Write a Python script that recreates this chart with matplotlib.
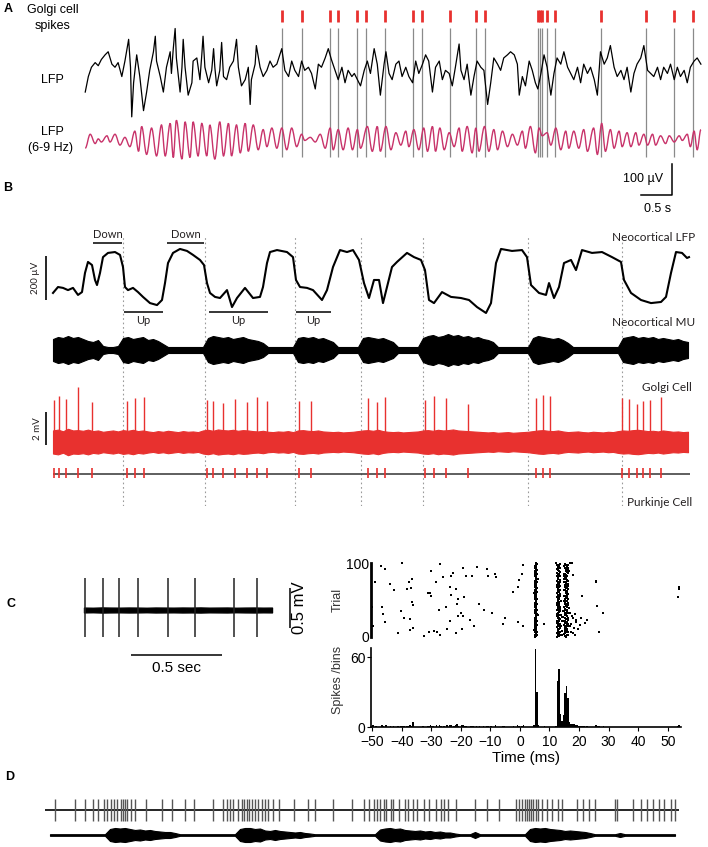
import numpy as np
import matplotlib
matplotlib.use("Agg")
import matplotlib.pyplot as plt
from matplotlib.path import Path
from matplotlib.patches import PathPatch

plt.rcParams['font.family'] = ['Liberation Sans', 'DejaVu Sans']

W, H = 708, 847
RED = '#e8312f'
PINK = '#c8336a'
GREY_TXT = '#231f20'

# ---------------- panel A data ----------------
# Golgi cell spike times (s)
a_spikes = [3.19, 3.52, 3.97, 4.10, 4.40, 4.55, 4.85, 5.31, 5.45, 5.90, 6.32, 6.47,
            7.32, 7.35, 7.39, 7.47, 7.60, 8.34, 9.06, 9.52, 9.82]

# raw LFP (s, uV)
lfp_a_t = [0.02, 0.07, 0.12, 0.18, 0.23, 0.28, 0.34, 0.39, 0.45, 0.50, 0.55, 0.61, 0.66, 0.72, 0.75,
           0.77, 0.80, 0.85, 0.90, 0.96, 1.01, 1.06, 1.12, 1.15, 1.17, 1.23, 1.28, 1.33, 1.39, 1.41,
           1.44, 1.47, 1.49, 1.55, 1.58, 1.60, 1.63, 1.68, 1.74, 1.76, 1.82, 1.87, 1.90, 1.92, 1.95,
           2.01, 2.06, 2.09, 2.11, 2.14, 2.19, 2.22, 2.25, 2.30, 2.35, 2.41, 2.46, 2.49, 2.54, 2.60,
           2.65, 2.68, 2.70, 2.76, 2.78, 2.84, 2.89, 2.95, 3.00, 3.05, 3.11, 3.19, 3.24, 3.30, 3.35,
           3.40, 3.46, 3.51, 3.56, 3.62, 3.67, 3.73, 3.78, 3.83, 3.89, 3.94, 3.99, 4.05, 4.10, 4.16,
           4.21, 4.26, 4.32, 4.36, 4.41, 4.46, 4.52, 4.57, 4.62, 4.68, 4.73, 4.78, 4.84, 4.87, 4.92,
           4.97, 5.03, 5.08, 5.13, 5.19, 5.24, 5.30, 5.35, 5.40, 5.46, 5.51, 5.56, 5.62, 5.67, 5.73,
           5.78, 5.83, 5.89, 5.94, 5.99, 6.05, 6.08, 6.13, 6.18, 6.24, 6.29, 6.34, 6.40, 6.45, 6.51,
           6.56, 6.61, 6.67, 6.72, 6.77, 6.83, 6.88, 6.94, 6.99, 7.02, 7.07, 7.12, 7.18, 7.23, 7.28,
           7.32, 7.37, 7.42, 7.47, 7.53, 7.58, 7.63, 7.69, 7.74, 7.80, 7.85, 7.90, 7.96, 8.01, 8.06,
           8.12, 8.17, 8.23, 8.28, 8.33, 8.39, 8.44, 8.49, 8.55, 8.60, 8.66, 8.71, 8.76, 8.82, 8.87,
           8.92, 8.98, 9.03, 9.09, 9.14, 9.19, 9.25, 9.30, 9.35, 9.41, 9.46, 9.52, 9.57, 9.62, 9.68,
           9.73, 9.78, 9.84, 9.89, 9.95]
lfp_a_uv = [-55, -5, 25, 40, 30, 50, 65, 75, 35, 25, 40, -5, 45, 115, 25,
            -135, -25, 65, -5, -115, -55, 15, 75, 125, 45, -5, -55, 25, 75, 5,
            85, 150, 55, -55, 25, 115, 25, -65, -25, 45, 55, -15, 65, 125, 25,
            -25, 15, 85, 25, -35, 15, 105, -5, -15, 25, 45, 115, 25, -35, -15,
            25, -95, -15, 35, 95, 25, -5, 15, 45, 25, 35, 85, 15, -5, 45,
            15, -5, 45, 15, 25, 5, -45, 35, 25, 55, 85, 50, 15, -15, 25,
            -25, 15, -5, 5, -15, -35, 15, 45, 5, 85, 35, -65, 35, 75, 5,
            -15, 35, 45, -5, 25, -5, -25, 45, 5, 35, 65, 45, -55, 25, 45,
            -15, 15, 5, -35, 25, 100, 15, -15, 35, -65, -5, 45, 25, 15, -95,
            -25, 55, 35, 15, 55, 65, 75, 65, 35, -65, -5, -35, 45, 15, -25,
            -45, 5, 65, 25, -65, 5, 55, 35, 75, 25, 5, -15, 25, -25, 35,
            5, 25, -15, -65, 75, 35, 55, 95, 25, -5, 15, -15, 25, -55, 5,
            35, 55, 95, 15, 5, -5, 25, -15, 25, 5, 35, -15, 25, -5, 15,
            -25, 25, 45, 55, 35]

# 6-9 Hz filtered LFP: successive peaks and troughs (s, uV)
flt_t = [0.02, 0.10, 0.18, 0.23, 0.28, 0.37, 0.42, 0.50, 0.58, 0.66, 0.74, 0.82, 0.88, 0.93, 1.01,
         1.09, 1.17, 1.25, 1.31, 1.39, 1.44, 1.49, 1.58, 1.63, 1.71, 1.76, 1.84, 1.90, 1.98, 2.03,
         2.11, 2.19, 2.25, 2.33, 2.38, 2.46, 2.52, 2.60, 2.65, 2.73, 2.81, 2.89, 2.95, 3.03, 3.11,
         3.19, 3.27, 3.35, 3.43, 3.51, 3.56, 3.65, 3.73, 3.81, 3.89, 3.97, 4.02, 4.10, 4.18, 4.26,
         4.33, 4.41, 4.46, 4.57, 4.65, 4.73, 4.78, 4.87, 4.95, 5.03, 5.11, 5.19, 5.24, 5.32, 5.40,
         5.48, 5.54, 5.62, 5.67, 5.74, 5.81, 5.89, 5.97, 6.05, 6.10, 6.18, 6.26, 6.32, 6.37, 6.46,
         6.53, 6.61, 6.67, 6.75, 6.83, 6.91, 6.99, 7.07, 7.12, 7.20, 7.28, 7.34, 7.39, 7.47, 7.53,
         7.61, 7.69, 7.77, 7.82, 7.90, 7.98, 8.06, 8.12, 8.22, 8.28, 8.35, 8.41, 8.49, 8.55, 8.63,
         8.68, 8.76, 8.82, 8.90, 8.95, 9.03, 9.09, 9.17, 9.22, 9.30, 9.38, 9.44, 9.52, 9.60, 9.65,
         9.73, 9.78, 9.84, 9.89, 9.95]
flt_uv = [-20, 25, -5, 10, 0, 20, 0, 25, -10, 15, -15, 35, -30, 50, -40,
          45, -45, 55, -45, 60, -50, 70, -55, 65, -50, 65, -45, 60, -45, 55,
          -55, 65, -45, 60, -45, 55, -35, 60, -30, 55, -25, 40, -15, 45, -20,
          45, -25, 45, -15, 25, 5, 15, 0, 25, -20, 45, -25, 40, -25, 45,
          -25, 40, -20, 50, -30, 50, -30, 50, -25, 30, -10, 35, -15, 40, -25,
          45, -30, 50, -30, 45, -25, 30, -15, 45, -30, 50, -35, 45, -30, 50,
          -30, 40, -25, 35, -15, 25, -10, 35, -20, 50, -35, 45, 20, 30, -10,
          45, -25, 35, -20, 35, -20, 40, -30, 45, -40, 60, -30, 40, -20, 35,
          -15, 30, -15, 30, -10, 25, -10, 25, -10, 20, -5, 20, 0, 20, 5,
          25, -15, 35, -25, 40]

# ---------------- panel B data ----------------
# neocortical LFP (s, uV)
lfp_b_t = [0.00, 0.10, 0.20, 0.30, 0.40, 0.50, 0.58, 0.64, 0.70, 0.78, 0.84, 0.88, 0.94, 1.00, 1.10,
           1.24, 1.34, 1.40, 1.44, 1.50, 1.60, 1.70, 1.80, 1.94, 2.08, 2.18, 2.24, 2.30, 2.40, 2.54,
           2.68, 2.80, 2.94, 3.02, 3.08, 3.14, 3.24, 3.34, 3.48, 3.58, 3.68, 3.84, 4.00, 4.14, 4.20,
           4.28, 4.34, 4.48, 4.68, 4.80, 4.86, 4.94, 5.08, 5.20, 5.38, 5.48, 5.60, 5.74, 5.88, 6.00,
           6.12, 6.22, 6.32, 6.42, 6.52, 6.60, 6.68, 6.78, 6.88, 7.08, 7.22, 7.36, 7.44, 7.52, 7.62,
           7.78, 7.96, 8.16, 8.32, 8.48, 8.66, 8.76, 8.86, 8.96, 9.18, 9.38, 9.48, 9.56, 9.72, 9.86,
           9.92, 10.02, 10.12, 10.22, 10.36, 10.46, 10.58, 10.78, 10.98, 11.18, 11.36, 11.42, 11.56,
           11.76, 11.96, 12.16, 12.26, 12.36, 12.46, 12.58, 12.68, 12.72]
lfp_b_uv = [32, 59, 55, 45, 55, 23, 36, 123, 173, 159, 91, 68, 123, 195, 214,
            218, 205, 150, 59, 45, 55, 36, 14, -14, -23, 0, 77, 168, 214, 232,
            223, 205, 182, 159, 77, 32, 14, 9, 45, -32, 9, 55, 9, 14, 59,
            168, 218, 227, 218, 195, 91, 59, 55, 45, 0, 45, 150, 227, 218, 227,
            182, 77, 9, 91, 91, -14, 59, 150, 173, 214, 195, 182, 136, 0, -14,
            36, 14, 9, 0, -32, -59, -14, 168, 232, 223, 227, 195, 68, 32, 23,
            77, 9, 59, 168, 182, 136, 227, 214, 218, 195, 173, 91, 32,
            0, -14, -9, 14, 123, 218, 214, 191, 195]

down_states = [(0.80, 1.38), (2.28, 3.02)]
up_states = [(1.42, 2.20), (3.12, 4.30), (4.86, 5.56)]
transitions = [1.40, 3.04, 4.84, 6.16, 7.40, 9.50, 11.38]

# multi-unit activity envelope, one value every 0.1 s (a.u.)
mu_env = [11, 13, 12, 14, 12, 13, 11, 9, 8, 10,
          4, 3, 3, 4,
          12, 13, 11, 12, 13, 10, 11, 9, 6,
          3, 3, 3, 3, 3, 3, 3, 3,
          12, 14, 13, 12, 13, 11, 12, 13, 11, 10, 9, 7,
          3, 3, 3, 3, 3, 3,
          12, 13, 12, 13, 11, 12, 10, 8,
          3, 3, 3, 3, 3,
          12, 13, 12, 11, 12, 10, 8,
          3, 3, 3, 3, 3,
          12, 14, 15, 13, 14, 16, 14, 15, 13, 14, 12, 13, 11, 10, 8,
          3, 3, 3, 3, 3, 3, 3,
          12, 14, 13, 12, 11, 12, 10, 7,
          3, 3, 3, 3, 3, 3, 3, 3, 3, 3,
          12, 13, 14, 12, 13, 12, 13, 11, 12, 11, 10, 11, 9, 8]

# Golgi cell: background noise half-width every 0.1 s (mV), spikes (s, mV)
golgi_env = [0.70, 0.75, 0.65, 0.80, 0.70, 0.72, 0.68, 0.75, 0.66, 0.70,
             0.62, 0.66, 0.70, 0.64, 0.72, 0.68, 0.74, 0.66, 0.70, 0.64,
             0.60, 0.66, 0.62, 0.68, 0.64, 0.60, 0.66, 0.62, 0.64, 0.60,
             0.70, 0.74, 0.68, 0.76, 0.72, 0.70, 0.74, 0.68, 0.72, 0.70,
             0.66, 0.64, 0.68, 0.62, 0.60, 0.64, 0.62, 0.66, 0.60, 0.70,
             0.72, 0.68, 0.66, 0.70, 0.64, 0.62, 0.60, 0.62, 0.58, 0.60,
             0.62, 0.66, 0.70, 0.72, 0.68, 0.74, 0.66, 0.62, 0.60, 0.62,
             0.58, 0.60, 0.62, 0.64, 0.70, 0.72, 0.68, 0.74, 0.70, 0.72,
             0.76, 0.70, 0.68, 0.66, 0.64, 0.62, 0.60, 0.58, 0.60, 0.56,
             0.58, 0.60, 0.56, 0.58, 0.60, 0.62, 0.66, 0.70, 0.72, 0.68,
             0.66, 0.70, 0.64, 0.60, 0.62, 0.64, 0.60, 0.58, 0.62, 0.60,
             0.58, 0.62, 0.60, 0.66, 0.70, 0.68, 0.72, 0.74, 0.70, 0.66,
             0.68, 0.64, 0.70, 0.66, 0.62, 0.64, 0.60, 0.62]
golgi_spk_t = [0.02, 0.12, 0.26, 0.50, 0.78, 1.48, 1.64, 1.82, 3.08, 3.20, 3.40, 3.64, 3.88,
               4.08, 4.28, 4.92, 5.16, 6.30, 6.48, 6.64, 7.44, 7.62, 7.86, 8.30, 9.66, 9.80,
               9.94, 11.38, 11.52, 11.68, 11.80, 11.94, 12.16]
golgi_spk_mv = [2.55, 2.79, 2.61, 3.33, 2.42, 2.48, 2.67, 2.73, 2.55, 2.48, 2.36, 2.61, 2.42,
                2.73, 2.48, 2.48, 2.48, 2.67, 2.42, 2.73, 2.55, 2.79, 2.67, 2.30, 2.67, 2.85,
                2.79, 2.67, 2.61, 2.30, 2.48, 2.55, 2.73]
B_DUR = 12.74

# ---------------- panel C data ----------------
c_spikes = [0.005, 0.104, 0.192, 0.297, 0.462, 0.610, 0.824, 0.951]
c_env = [0.030, 0.028, 0.032, 0.030, 0.029, 0.031, 0.030, 0.028, 0.031, 0.030, 0.029,
         0.031, 0.030, 0.032, 0.029, 0.030, 0.031, 0.028, 0.030, 0.031, 0.029, 0.030]

bg_ms = [-46.9, -45.5, -48.9, -44.0, -39.9, -42.7, -37.6, -36.5, -38.2, -36.7, -50.0, -46.6, -46.3,
         -45.5, -41.3, -40.4, -39.3, -37.1, -36.5, -36.2, -37.3, -36.2, -32.6, -30.9, -29.2, -28.1,
         -27.2, -30.1, -27.0, -28.3, -26.0, -31.1, -30.4, -30.0, -27.4, -24.9, -24.7, -23.6, -23.6,
         -23.3, -22.5, -23.3, -21.6, -21.3, -21.1, -20.8, -21.1, -21.6, -20.0, -19.1, -18.8, -19.3,
         -18.2, -19.6, -16.9, -15.7, -16.3, -14.6, -13.7, -12.2, -11.2, -10.7, -9.6, -8.4, -8.1,
         -5.6, -5.1, -2.2, -0.8, -0.3, 0.6, 1.1, -0.6, 1.1, 8.1, 20.8, 21.9, 22.7, 21.1, 25.6,
         25.8, 26.1, 26.7, 28.1, 53.7, 53.9, 53.4, 17.6, 18.0, 19.1, -49.8]
bg_trial = [96, 92, 74, 72, 100, 63, 75, 78, 65, 66, 41, 40, 31,
            20, 5, 35, 25, 24, 47, 43, 9, 12, 1, 7, 8, 6,
            2, 89, 99, 74, 81, 59, 60, 55, 36, 41, 10, 22, 67,
            57, 87, 83, 5, 44, 52, 51, 28, 65, 33, 28, 54, 93,
            83, 11, 23, 15, 83, 95, 45, 37, 92, 82, 33, 85, 81,
            18, 26, 61, 68, 77, 86, 98, 20, 14, 17, 26, 19, 23, 55, 76,
            75, 42, 7, 33, 67, 65, 54, 100, 84, 23, 15]

# first evoked spike, one per trial 0..100 (ms)
evoked1 = [5.2, 5.3, 5.7, 5.1, 5.4, 5.6, 5.8, 5.2, 5.4, 4.9,
           5.3, 5.6, 5.2, 5.4, 5.1, 5.6, 5.7, 5.2, 5.4, 5.3,
           5.2, 5.9, 5.4, 5.1, 5.3, 5.6, 5.2, 5.4, 5.6, 6.1,
           5.3, 5.7, 5.2, 5.4, 5.1, 5.3, 5.8, 5.2, 5.4, 5.6,
           5.2, 5.6, 5.4, 5.1, 5.3, 5.7, 5.2, 5.4, 5.3, 5.6,
           5.3, 5.2, 5.8, 5.4, 5.1, 5.6, 5.6, 5.2, 5.4, 4.8,
           5.3, 5.7, 5.2, 5.4, 5.1, 5.6, 5.9, 5.2, 5.4, 5.3,
           5.2, 5.6, 5.4, 5.1, 5.3, 5.7, 5.2, 5.4, 5.6, 6.2,
           5.3, 5.6, 5.2, 5.4, 5.1, 5.6, 5.8, 5.2, 5.4, 5.3,
           5.2, 5.7, 5.4, 5.1, 5.3, 5.6, 5.2, 5.4, 5.3, 5.7, 5.3]
# second and third evoked spikes per trial (ms)
evoked2 = [12.7, 13.2, 12.9, 13.4, 13.1, 12.6, 13.7, 13.3, 12.8, 13.0,
           13.1, 12.8, 13.4, 12.6, 13.2, 13.0, 12.9, 13.7, 13.3, 12.7,
           12.9, 13.3, 12.7, 13.1, 13.6, 12.8, 13.2, 13.0, 12.6, 13.4,
           13.2, 12.6, 13.0, 12.9, 13.3, 13.7, 12.7, 13.1, 13.4, 12.8,
           12.8, 13.4, 13.1, 12.7, 13.0, 13.2, 12.6, 13.3, 12.9, 13.8,
           13.0, 12.9, 13.3, 13.2, 12.7, 13.1, 13.4, 12.8, 13.6, 12.6,
           12.6, 13.1, 12.8, 13.3, 13.5, 12.9, 13.0, 12.7, 13.2, 13.4,
           13.3, 12.7, 13.2, 12.8, 13.1, 13.4, 12.6, 13.7, 13.0, 12.9,
           12.9, 13.0, 13.4, 12.6, 12.8, 13.3, 13.1, 12.7, 13.6, 13.2,
           13.1, 12.8, 12.7, 13.2, 13.4, 12.9, 13.3, 13.0, 12.6, 13.5, 12.3]
evoked3 = [15.6, 15.2, 16.1, 15.8, 14.8, 15.4, 16.3, 15.7, 15.1, 16.0,
           15.3, 16.0, 15.7, 15.1, 16.2, 15.5, 14.9, 15.8, 16.4, 15.2,
           15.9, 15.4, 15.0, 16.1, 15.6, 16.3, 15.2, 14.7, 15.8, 15.5,
           15.1, 15.7, 16.2, 15.3, 15.9, 14.8, 15.6, 16.0, 15.4, 16.5,
           15.8, 15.0, 15.5, 16.3, 15.2, 15.7, 16.1, 15.4, 14.9, 15.9,
           15.4, 16.2, 15.1, 15.6, 16.0, 15.3, 14.8, 15.9, 16.4, 15.7,
           16.0, 15.5, 15.8, 14.9, 15.3, 16.1, 15.6, 15.2, 15.9, 16.3,
           15.2, 15.9, 16.4, 15.5, 15.0, 15.7, 16.2, 15.8, 15.3, 14.8,
           15.7, 15.3, 15.0, 16.0, 15.6, 14.9, 15.4, 16.1, 15.8, 16.6,
           15.5, 16.1, 15.7, 15.2, 16.3, 15.9, 15.0, 15.6, 16.2, 15.4, 16.8]
late_ms = [14.2, 14.0, 14.3, 13.8, 14.1, 14.4, 17.8, 18.3, 19.0, 17.5, 18.8, 17.2, 19.5, 16.8,
           18.0, 17.0, 20.2, 14.6, 17.3, 18.5]
late_trial = [8, 15, 22, 30, 2, 27, 5, 12, 20, 28, 3, 18, 10, 33, 25, 14, 16, 35, 6, 31]

# ---------------- panel D data ----------------
d_spikes = [0.10, 0.30, 0.40, 0.48, 0.53, 0.59, 0.62, 0.66, 0.69, 0.72, 0.76, 0.78, 0.80, 0.82,
            0.86, 0.90, 1.01, 1.17, 1.27, 1.40, 1.49, 1.68, 1.78, 1.82, 1.85, 1.88, 1.93, 1.97,
            1.99, 2.02, 2.04, 2.07, 2.10, 2.13, 2.17, 2.20, 2.23, 2.28, 2.34, 2.49, 2.63, 2.70,
            2.88, 3.07, 3.19, 3.24, 3.29, 3.32, 3.35, 3.39, 3.41, 3.46, 3.48, 3.54, 3.60, 3.63,
            3.68, 3.72, 3.79, 3.84, 3.91, 3.96, 3.99, 4.03, 4.11, 4.30, 4.42, 4.54, 4.71, 4.74,
            4.77, 4.80, 4.82, 4.84, 4.86, 4.88, 4.91, 4.93, 4.97, 5.02, 5.07, 5.13, 5.17, 5.32,
            5.38, 5.44, 5.50, 5.70, 5.72, 5.88, 5.96, 6.02, 6.08, 6.14, 6.19, 6.26, 6.30]
D_DUR = 6.34
# field trace envelope every 0.05 s from 0.05 s (a.u.)
d_env = [0.8] * 12 + [6, 7, 6.5, 7, 6] + [5, 5.5, 4.5, 5, 4] + [3.5, 3, 3, 2] + [0.8] * 12 + \
        [6, 7, 7, 6, 6.5] + [4.5, 4, 5, 4, 3.5] + [3, 2.5, 3, 2, 1.5] + [0.8] * 13 + \
        [5.5, 6.5, 7, 6, 6.5, 5] + [4.5, 4, 4.5, 3.5, 4, 3, 3.5] + [2.5, 2.5, 1.5] + [0.8] * 3 + \
        [3] + [0.8] * 10 + [6, 7, 6.5, 7, 6, 5.5, 5] + [4, 4.5, 4, 3.5, 3, 2] + [0.8] * 5 + \
        [2] + [0.8] * 11


def box(x0, y0, x1, y1):
    return [x0 / W, 1 - y1 / H, (x1 - x0) / W, (y1 - y0) / H]


def bare(ax):
    ax.set_axis_off()
    ax.patch.set_alpha(0)


def smooth_path(t, v, off):
    verts = [(t[0], v[0] + off)]
    codes = [Path.MOVETO]
    for i in range(len(t) - 1):
        d = t[i + 1] - t[i]
        verts += [(t[i] + 0.36 * d, v[i] + off), (t[i + 1] - 0.36 * d, v[i + 1] + off),
                  (t[i + 1], v[i + 1] + off)]
        codes += [Path.CURVE4] * 3
    return Path(verts, codes)


fig = plt.figure(figsize=(W / 100, H / 100), dpi=100)
fig.patch.set_facecolor('white')


def ftext(x, y, s, **kw):
    fig.text(x / W, 1 - y / H, s, **kw)


# ================= panel A =================
kA = 100 / 31  # uV per pixel
axA = fig.add_axes(box(0, 0, W, 205))
bare(axA)
axA.set_xlim(-84 / 62, 624 / 62)
axA.set_ylim(-130 * kA, 75 * kA)
ay = lambda py: (75 - py) * kA
axA.vlines(a_spikes, ay(157), ay(28), color='#8a8a8a', lw=0.9, zorder=1)
axA.vlines(a_spikes, ay(22), ay(10), color=RED, lw=2.0, zorder=3)
axA.plot(lfp_a_t, lfp_a_uv, color='black', lw=0.9, zorder=2)
axA.add_patch(PathPatch(smooth_path(flt_t, flt_uv, ay(142)), fill=False, ec=PINK, lw=1.0, zorder=2))
sbx = (672 - 84) / 62
axA.plot([sbx - 0.5, sbx, sbx], [ay(195), ay(195), ay(195) + 100], color='black', lw=1.1)
axA.text(sbx - 0.47, ay(179), '100 µV', ha='center', va='center', fontsize=9)
axA.text(sbx - 0.23, ay(209), '0.5 s', ha='center', va='center', fontsize=9)

ftext(8, 9, 'A', fontsize=9, fontweight='bold', ha='center', va='center')
ftext(53, 10, 'Golgi cell', fontsize=9, ha='center', va='center')
ftext(53, 26, 'spikes', fontsize=9, ha='center', va='center')
ftext(52, 80, 'LFP', fontsize=9, ha='center', va='center')
ftext(52, 132, 'LFP', fontsize=9, ha='center', va='center')
ftext(51, 148, '(6-9 Hz)', fontsize=9, ha='center', va='center')

# ================= panel B =================
xlimB = (-53 / 50, (W - 53) / 50)
kB = 200 / 44
bfont = dict(family=['Lato', 'DejaVu Sans'], color=GREY_TXT)

axBd = fig.add_axes(box(0, 237, W, 506))
bare(axBd)
axBd.set_xlim(*xlimB)
axBd.set_ylim(0, 1)
axBd.vlines(transitions, 0, 1, color='#9a9a9a', lw=0.8, linestyles=(0, (1.5, 2.5)))

axB1 = fig.add_axes(box(0, 225, W, 330))
bare(axB1)
axB1.set_xlim(*xlimB)
axB1.set_ylim(-30 * kB, 75 * kB)
by = lambda py: (300 - py) * kB
axB1.plot(lfp_b_t, lfp_b_uv, color='black', lw=1.5, solid_joinstyle='round')
for a, b in down_states:
    axB1.hlines(by(243), a, b, color='black', lw=1.1)
    axB1.text((a + b) / 2, by(235), 'Down', ha='center', va='center', fontsize=8, **bfont)
for a, b in up_states:
    axB1.hlines(by(312), a, b, color='black', lw=1.1)
    axB1.text((a + b) / 2, by(320), 'Up', ha='center', va='center', fontsize=8, **bfont)
axB1.vlines(-0.14, 0, 200, color='black', lw=1.2)
axB1.text(-0.34, 100, '200 µV', rotation=90, ha='center', va='center', fontsize=7, **bfont)

grid_b = np.arange(len(mu_env)) * 0.1
axB2 = fig.add_axes(box(0, 330, W, 372))
bare(axB2)
axB2.set_xlim(*xlimB)
axB2.set_ylim(-22, 20)
mu = np.array(mu_env, dtype=float)
axB2.fill_between(grid_b, -mu, mu, color='black', lw=0.8, ec='black')

kG = 2 / 33
axB3 = fig.add_axes(box(0, 380, W, 462))
bare(axB3)
axB3.set_xlim(*xlimB)
axB3.set_ylim(-20 * kG, 62 * kG)
ge = np.array(golgi_env)
axB3.fill_between(grid_b[:len(ge)], -ge, ge, color=RED, lw=0.8, ec=RED)
axB3.vlines(golgi_spk_t, 0, golgi_spk_mv, color=RED, lw=1.0)
axB3.vlines(-0.14, -0.18, 1.82, color='black', lw=1.2)
axB3.text(-0.32, 0.8, '2 mV', rotation=90, ha='center', va='center', fontsize=7, **bfont)

axB4 = fig.add_axes(box(0, 462, W, 486))
bare(axB4)
axB4.set_xlim(*xlimB)
axB4.set_ylim(-12, 12)
axB4.hlines(0, 0, B_DUR, color='#333333', lw=1.1)
axB4.vlines(golgi_spk_t, -4, 6, color=RED, lw=1.2)

ftext(8, 188, 'B', fontsize=9, fontweight='bold', ha='center', va='center')
ftext(695, 237, 'Neocortical LFP', fontsize=8.5, ha='right', va='center', **bfont)
ftext(695, 323, 'Neocortical MU', fontsize=8.5, ha='right', va='center', **bfont)
ftext(692, 387, 'Golgi Cell', fontsize=8.5, ha='right', va='center', **bfont)
ftext(692, 502, 'Purkinje Cell', fontsize=8.5, ha='right', va='center', **bfont)

# ================= panel C (left trace) =================
axC1 = fig.add_axes(box(0, 565, 320, 680))
bare(axC1)
axC1.set_xlim(-84 / 182, 236 / 182)
axC1.set_ylim(-70 / 80, 45 / 80)
ct = np.linspace(0, 1.033, len(c_env))
ce = np.array(c_env)
axC1.fill_between(ct, -ce, ce, color='black', lw=1.0, ec='black')
axC1.vlines(c_spikes, -0.34, 0.40, color='#222222', lw=1.1)
axC1.hlines(-45 / 80, (131 - 84) / 182, (131 - 84) / 182 + 0.5, color='black', lw=1.1)
axC1.text((177 - 84) / 182, -58 / 80, '0.5 sec', ha='center', va='center', fontsize=11)
axC1.vlines((290 - 84) / 182, -0.225, 0.275, color='black', lw=1.1)
axC1.text((299 - 84) / 182, 0.025, '0.5 mV', rotation=90, ha='center', va='center', fontsize=12)
ftext(11, 604, 'C', fontsize=9, fontweight='bold', ha='center', va='center')

# ================= panel C (raster + PSTH) =================
trials = np.arange(len(evoked1))
axR = fig.add_axes(box(371, 561, 681, 639))
axR.set_xlim(-50.4, 54.5)
axR.set_ylim(-3, 103)
mk = dict(ls='none', marker='s', ms=1.5, color='black', mew=0)
axR.plot(bg_ms, bg_trial, **mk)
axR.plot(evoked1, trials, **mk)
axR.plot(evoked2, trials, **mk)
axR.plot(evoked3, trials, **mk)
axR.plot(late_ms, late_trial, **mk)
for s in ['top', 'right', 'bottom']:
    axR.spines[s].set_visible(False)
axR.spines['left'].set_linewidth(2.0)
axR.spines['left'].set_bounds(0, 100)
axR.set_xticks([])
axR.set_yticks([0, 100])
axR.tick_params(axis='y', length=0, labelsize=10, pad=1)
axR.set_ylabel('Trial', fontsize=9, color='#333333', labelpad=2)

all_ms = np.concatenate([bg_ms, evoked1, evoked2, evoked3, late_ms])
counts, edges = np.histogram(all_ms, bins=np.arange(-50, 54.6, 0.5))
axP = fig.add_axes(box(371, 648, 681, 727))
axP.bar(edges[:-1], counts, width=0.5, align='edge', color='black', lw=0)
axP.set_xlim(-50.4, 54.5)
axP.set_ylim(0, 68)
axP.spines['top'].set_visible(False)
axP.spines['right'].set_visible(False)
axP.spines['left'].set_linewidth(1.2)
axP.spines['bottom'].set_linewidth(1.2)
axP.set_xticks(np.arange(-50, 51, 10))
axP.set_yticks([0, 60])
axP.tick_params(labelsize=10, length=3)
axP.tick_params(axis='x', pad=3)
axP.tick_params(axis='y', pad=1)
axP.set_ylabel('Spikes /bins', fontsize=9, color='#333333')
axP.yaxis.set_label_coords(-0.088, 0.6)
axP.set_xlabel('Time (ms)', fontsize=11, labelpad=1)

# ================= panel D =================
xlimD = (-45 / 100, (W - 45) / 100)
axD1 = fig.add_axes(box(0, 795, W, 825))
bare(axD1)
axD1.set_xlim(*xlimD)
axD1.set_ylim(-15, 15)
axD1.hlines(0, 0, D_DUR, color='black', lw=1.2)
axD1.vlines(d_spikes, -11, 11, color='#555555', lw=1.0)

axD2 = fig.add_axes(box(0, 825, W, 847))
bare(axD2)
axD2.set_xlim(*xlimD)
axD2.set_ylim(-12, 10)
de = np.array(d_env)
dt = (np.arange(len(de)) + 1) * 0.05
axD2.fill_between(dt, -de, de, color='black', lw=0.8, ec='black')
ftext(10, 777, 'D', fontsize=9, fontweight='bold', ha='center', va='center')

fig.savefig('out.png', dpi=100, facecolor='white')
